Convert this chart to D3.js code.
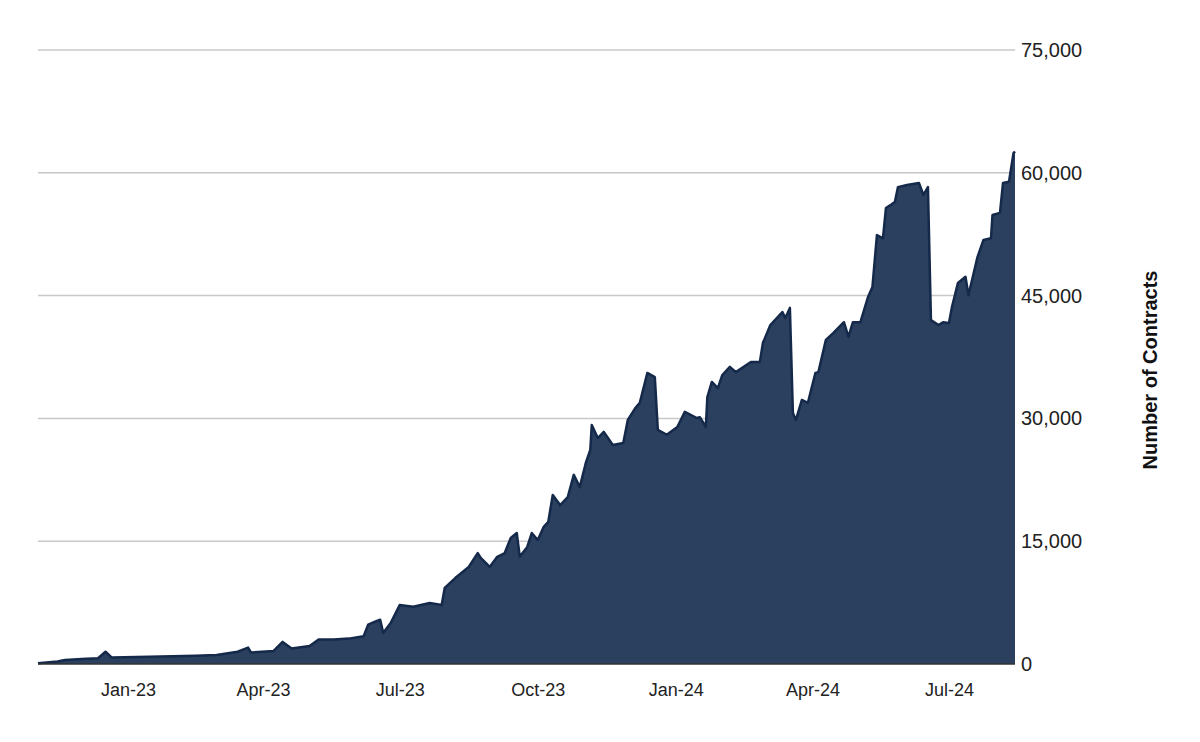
<!DOCTYPE html>
<html><head><meta charset="utf-8">
<script src="https://cdn.jsdelivr.net/npm/d3@7"></script>
<style>body{margin:0;background:#fff}svg{font-family:"Liberation Sans",Arial,sans-serif}</style>
</head><body><svg id="chart" width="1200" height="742"></svg>
<script>
// readings, [date, contracts]
var dates = ["2022-11-02","2022-11-15","2022-11-20","2022-12-01","2022-12-12","2022-12-17","2022-12-21","2023-01-15","2023-02-15","2023-03-01","2023-03-15","2023-03-22","2023-03-24","2023-04-08","2023-04-14","2023-04-20","2023-05-02","2023-05-08","2023-05-18","2023-05-28","2023-06-07","2023-06-10","2023-06-15","2023-06-18","2023-06-20","2023-06-25","2023-07-01","2023-07-10","2023-07-21","2023-07-29","2023-07-31","2023-08-07","2023-08-16","2023-08-22","2023-08-24","2023-08-30","2023-09-04","2023-09-09","2023-09-13","2023-09-17","2023-09-19","2023-09-24","2023-09-27","2023-10-01","2023-10-05","2023-10-08","2023-10-11","2023-10-16","2023-10-21","2023-10-25","2023-10-29","2023-11-02","2023-11-05","2023-11-06","2023-11-10","2023-11-14","2023-11-20","2023-11-27","2023-11-30","2023-12-05","2023-12-08","2023-12-13","2023-12-18","2023-12-20","2023-12-26","2024-01-02","2024-01-07","2024-01-15","2024-01-17","2024-01-21","2024-01-22","2024-01-25","2024-01-29","2024-02-01","2024-02-06","2024-02-10","2024-02-20","2024-02-26","2024-02-28","2024-03-04","2024-03-12","2024-03-14","2024-03-17","2024-03-19","2024-03-21","2024-03-25","2024-03-29","2024-04-03","2024-04-05","2024-04-10","2024-04-15","2024-04-22","2024-04-25","2024-04-28","2024-05-03","2024-05-08","2024-05-11","2024-05-14","2024-05-18","2024-05-20","2024-05-23","2024-05-26","2024-05-28","2024-06-03","2024-06-11","2024-06-14","2024-06-17","2024-06-19","2024-06-24","2024-06-27","2024-07-01","2024-07-03","2024-07-07","2024-07-12","2024-07-14","2024-07-20","2024-07-24","2024-07-29","2024-07-30","2024-08-04","2024-08-06","2024-08-10","2024-08-13","2024-08-14"];
var contracts = [100,300,500,600,700,1500,800,900,1000,1100,1500,2000,1400,1600,2700,1900,2200,3000,3000,3100,3400,4800,5200,5400,3800,5000,7200,7000,7450,7200,9300,10500,11850,13550,12950,11850,13100,13550,15400,16000,13100,14300,16000,15150,16750,17350,20650,19400,20400,23100,21600,24550,26150,29200,27600,28350,26750,27000,29800,31250,31900,35550,35050,28600,28000,28950,30800,30050,30150,28950,32600,34450,33700,35300,36300,35650,36900,36900,39200,41400,43000,42250,43500,30650,29800,32250,31900,35550,35650,39600,40450,41750,39950,41750,41750,44800,46050,52400,52000,55700,56050,56450,58250,58500,58750,57300,58250,42000,41400,41750,41650,43600,46550,47300,45050,49700,51800,52000,54850,55100,58750,58900,62400,62600];
var yTicks = [0,15000,30000,45000,60000,75000];
var xTickDates = ["2023-01-01","2023-04-01","2023-07-01","2023-10-01","2024-01-01","2024-04-01","2024-07-01"];

var parse = d3.utcParse("%Y-%m-%d");
var data = dates.map(function(d, i){ return {date: parse(d), value: contracts[i]}; });

var svg = d3.select("#chart");
var plotLeft = 38, plotRight = 1015, plotTop = 50, plotBottom = 664;

var x = d3.scaleUtc().domain([parse("2022-11-02"), parse("2024-08-14")]).range([plotLeft, plotRight]);
var y = d3.scaleLinear().domain([0, 75000]).range([plotBottom, plotTop]);

// gridlines
svg.append("g").selectAll("line").data(yTicks.slice(1)).join("line")
  .attr("x1", plotLeft).attr("x2", plotRight)
  .attr("y1", function(d){ return y(d); }).attr("y2", function(d){ return y(d); })
  .attr("stroke", "#c8c8c8").attr("stroke-width", 1.5);

var area = d3.area().x(function(d){ return x(d.date); }).y0(y(0)).y1(function(d){ return y(d.value); });
var line = d3.line().x(function(d){ return x(d.date); }).y(function(d){ return y(d.value); });

svg.append("path").datum(data).attr("d", area).attr("fill", "#2b405e");
svg.append("path").datum(data).attr("d", line).attr("fill", "none")
  .attr("stroke", "#15294a").attr("stroke-width", 2.5).attr("stroke-linejoin", "round");

// baseline
svg.append("line").attr("x1", plotLeft).attr("x2", plotRight).attr("y1", plotBottom).attr("y2", plotBottom)
  .attr("stroke", "#333").attr("stroke-width", 1.5);

// right axis
var yAxis = svg.append("g").attr("transform", "translate(" + (plotRight + 3) + ",0)")
  .call(d3.axisRight(y).tickValues(yTicks).tickSize(0).tickFormat(d3.format(",")));
yAxis.select(".domain").remove();
yAxis.selectAll("text").attr("font-size", 20).attr("fill", "#222")
  .attr("font-family", "Liberation Sans, Arial, sans-serif");

// bottom axis
var xAxis = svg.append("g").attr("transform", "translate(0," + plotBottom + ")")
  .call(d3.axisBottom(x).tickValues(xTickDates.map(parse)).tickSize(0).tickFormat(d3.utcFormat("%b-%y")));
xAxis.select(".domain").remove();
xAxis.selectAll("text").attr("font-size", 18).attr("fill", "#222").attr("dy", "1.6em")
  .attr("font-family", "Liberation Sans, Arial, sans-serif");

svg.append("text").attr("transform", "translate(1157,370) rotate(-90)")
  .attr("text-anchor", "middle").attr("font-size", 20).attr("font-weight", "bold").attr("fill", "#111")
  .text("Number of Contracts");
</script></body></html>
